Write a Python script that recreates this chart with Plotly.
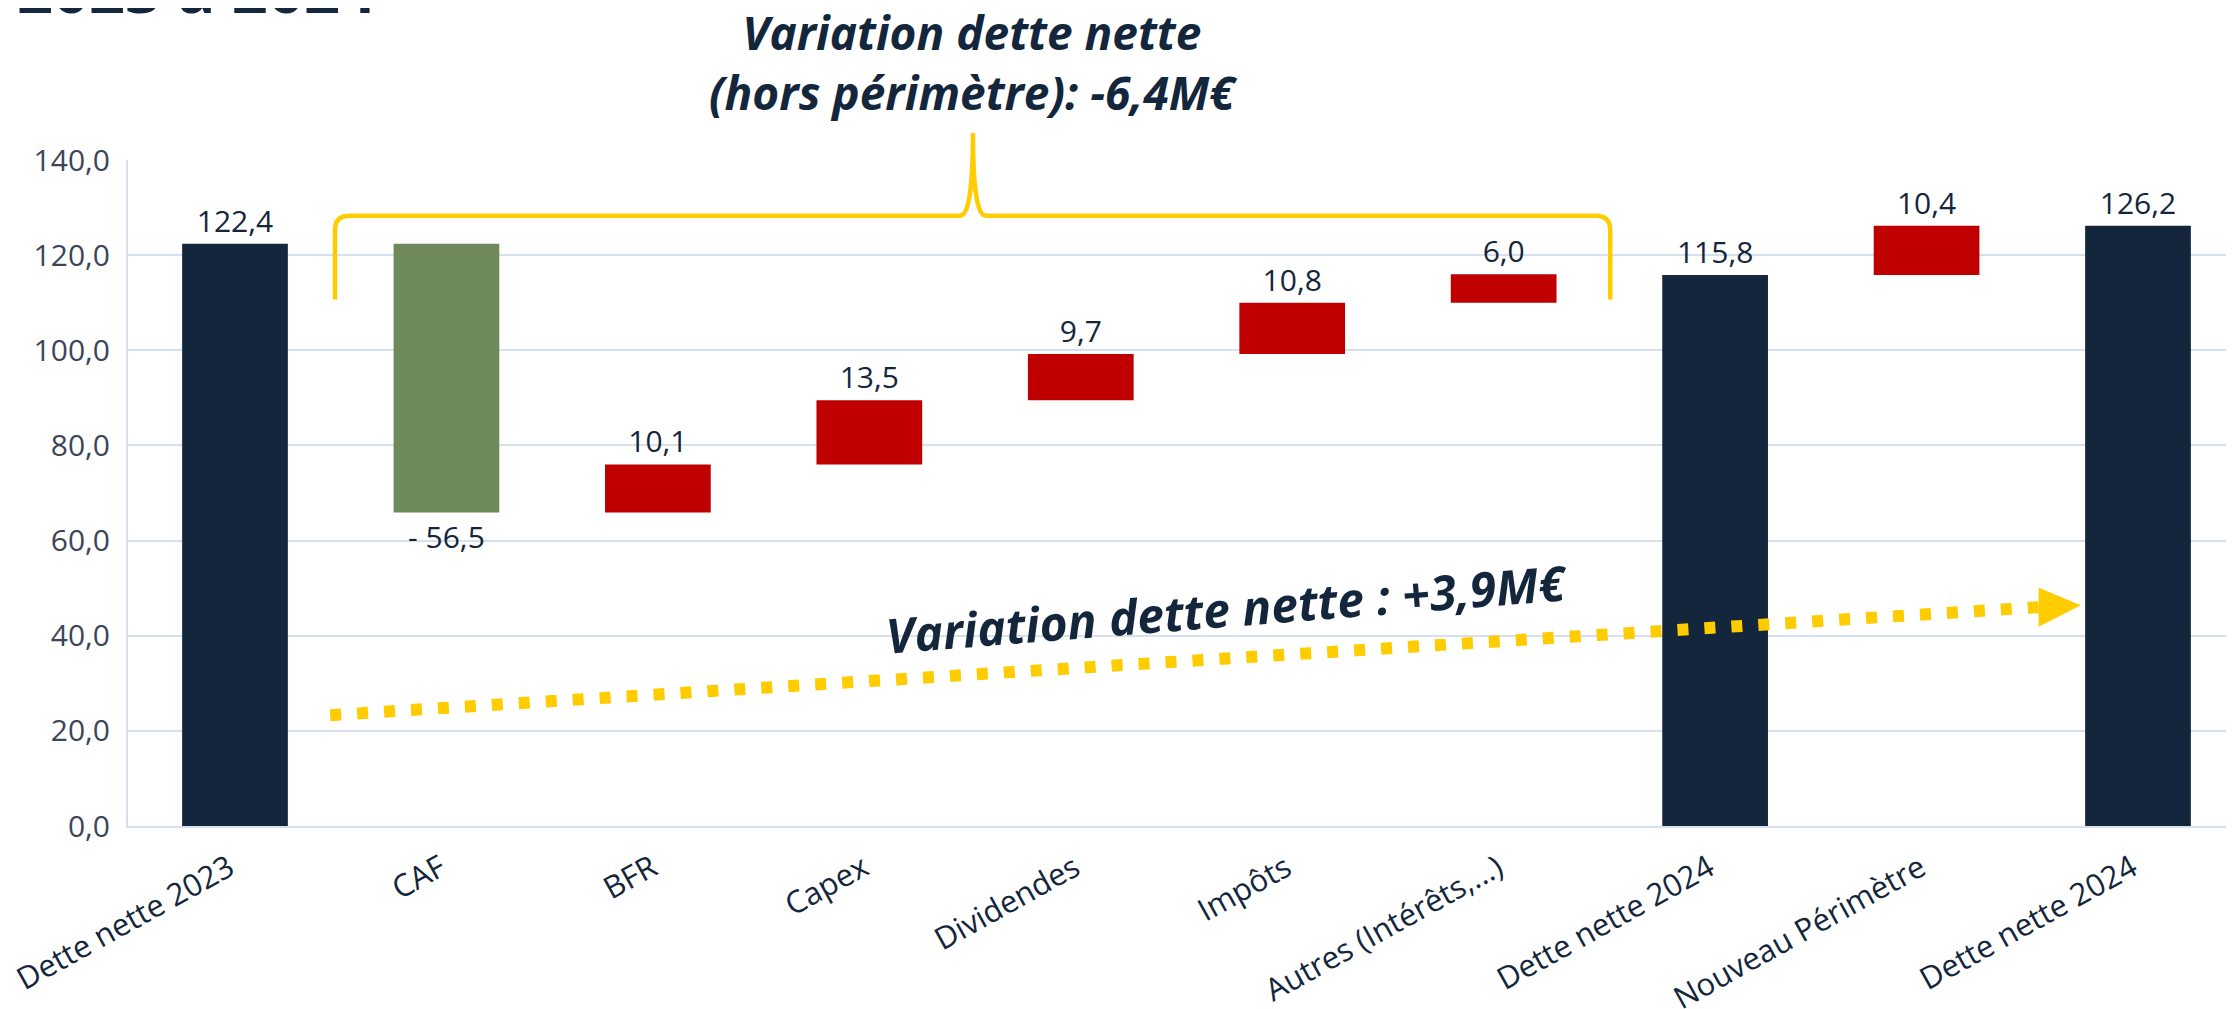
import plotly.graph_objects as go

# ---------------- data ----------------
categories = ["Dette nette 2023", "CAF", "BFR", "Capex", "Dividendes", "Impôts",
              "Autres (Intérêts,...)", "Dette nette 2024", "Nouveau Périmètre", "Dette nette 2024"]
values = [122.4, -56.5, 10.1, 13.5, 9.7, 10.8, 6.0, 115.8, 10.4, 126.2]
measures = ["absolute", "relative", "relative", "relative", "relative", "relative",
            "relative", "absolute", "relative", "absolute"]
value_labels = ["122,4", "- 56,5", "10,1", "13,5", "9,7", "10,8", "6,0", "115,8", "10,4", "126,2"]
y_ticks = [0, 20, 40, 60, 80, 100, 120, 140]

# dotted trend arrow (category units, value units)
arrow_x = [0.45, 8.53]
arrow_y = [23.3, 46.0]

# brace over the "hors périmètre" items (category units, value units)
brace_x = [0.473, 3.49, 6.504]      # left, peak, right
brace_y = [110.7, 128.3, 145.7]     # ends, bar, peak

# ---------------- style ----------------
NAVY = "#13263C"
RED = "#C00000"
GREEN = "#6E8A5B"
YELLOW = "#FFCC00"
GRID = "#D5E1EF"
TICK = "#3A4658"
FONT = "Open Sans"

# the page body has an 8px margin, so the figure is sized to end at the window edge
W, H = 2226, 1001
ML, MR, MT, MB = 120, 0, 152, 183
XR = [-0.506, 9.454]
YR = [0, 140]
plot_w = W - ML - MR
plot_h = H - MT - MB

xs = list(range(len(categories)))


def px_x(c):
    return (c - XR[0]) / (XR[1] - XR[0])


def py_y(v):
    return (v - YR[0]) / (YR[1] - YR[0])


def fig_px_to_paper_x(p):
    return (p - ML) / plot_w


def fig_px_to_paper_y(p):
    return (MT + plot_h - p) / plot_h


fig = go.Figure()

fig.add_trace(go.Waterfall(
    x=xs, y=values, measure=measures,
    text=value_labels, textinfo="text", textposition="outside",
    textfont=dict(family=FONT, size=30, color=NAVY),
    increasing=dict(marker=dict(color=RED)),
    decreasing=dict(marker=dict(color=GREEN)),
    totals=dict(marker=dict(color=NAVY)),
    connector=dict(visible=False),
    cliponaxis=False,
    hoverinfo="skip",
))

# dotted line
fig.add_trace(go.Scatter(
    x=arrow_x, y=arrow_y, mode="lines",
    line=dict(color=YELLOW, width=12, dash="11px,16px"),
    hoverinfo="skip",
))

# arrow head
hx, hy = arrow_x[-1], arrow_y[-1]
head_len, head_half = 0.2, 4.1
fig.add_trace(go.Scatter(
    x=[hx, hx, hx + head_len, hx],
    y=[hy + head_half, hy - head_half, hy + 0.4, hy + head_half],
    mode="lines", fill="toself", fillcolor=YELLOW,
    line=dict(color=YELLOW, width=0), hoverinfo="skip",
))

# brace path (paper coords, so the peak above the plot is not clipped)
L, C, R = [px_x(v) for v in brace_x]
yE, yH, yP = [py_y(v) for v in brace_y]
dx = px_x(0.07) - px_x(0)
dxs = px_x(0.06) - px_x(0)
dy = py_y(3.0) - py_y(0)
path = (f"M{L},{yE} L{L},{yH - dy} Q{L},{yH} {L + dx},{yH} "
        f"L{C - dxs},{yH} Q{C},{yH} {C},{yP} Q{C},{yH} {C + dxs},{yH} "
        f"L{R - dx},{yH} Q{R},{yH} {R},{yH - dy} L{R},{yE}")
fig.add_shape(type="path", path=path, xref="paper", yref="paper",
              line=dict(color=YELLOW, width=4.5), layer="above")

annotations = [
    dict(text="<b>2023 à 2024</b>", xref="paper", yref="paper",
         x=fig_px_to_paper_x(7), xanchor="left",
         y=fig_px_to_paper_y(-20), yanchor="middle", showarrow=False,
         font=dict(family=FONT, size=63, color=NAVY)),
    dict(text="<b><i>Variation dette nette<br>(hors périmètre): -6,4M€</i></b>",
         xref="x", yref="paper", x=brace_x[1], xanchor="center",
         y=fig_px_to_paper_y(54), yanchor="middle", showarrow=False,
         font=dict(family=FONT, size=46, color=NAVY)),
    dict(text="<b><i>Variation dette nette : +3,9M€</i></b>",
         xref="x", yref="y", x=4.69, y=45.8, textangle=-4.5, showarrow=False,
         font=dict(family=FONT, size=48, color=NAVY)),
]

fig.update_layout(
    width=W, height=H,
    margin=dict(l=ML, r=MR, t=MT, b=MB, pad=0, autoexpand=False),
    paper_bgcolor="white", plot_bgcolor="white",
    separators=", ",
    showlegend=False,
    waterfallgap=0.5,
    font=dict(family=FONT, color=NAVY),
    annotations=annotations,
    xaxis=dict(range=XR, tickvals=xs, ticktext=categories, tickangle=-29,
               tickfont=dict(family=FONT, size=31, color=NAVY),
               showgrid=False, showline=True, linecolor=GRID, linewidth=2,
               ticks="", zeroline=False, ticklabelstandoff=10, ticklabelshift=-6,
               automargin=False),
    yaxis=dict(range=YR, tickvals=y_ticks, tickformat=".1f",
               tickfont=dict(family=FONT, size=30, color=TICK),
               showgrid=True, gridcolor=GRID, gridwidth=2,
               showline=True, linecolor=GRID, linewidth=2,
               ticks="", zeroline=False, ticklabelstandoff=10, automargin=False),
)

fig.write_html("out.html")
